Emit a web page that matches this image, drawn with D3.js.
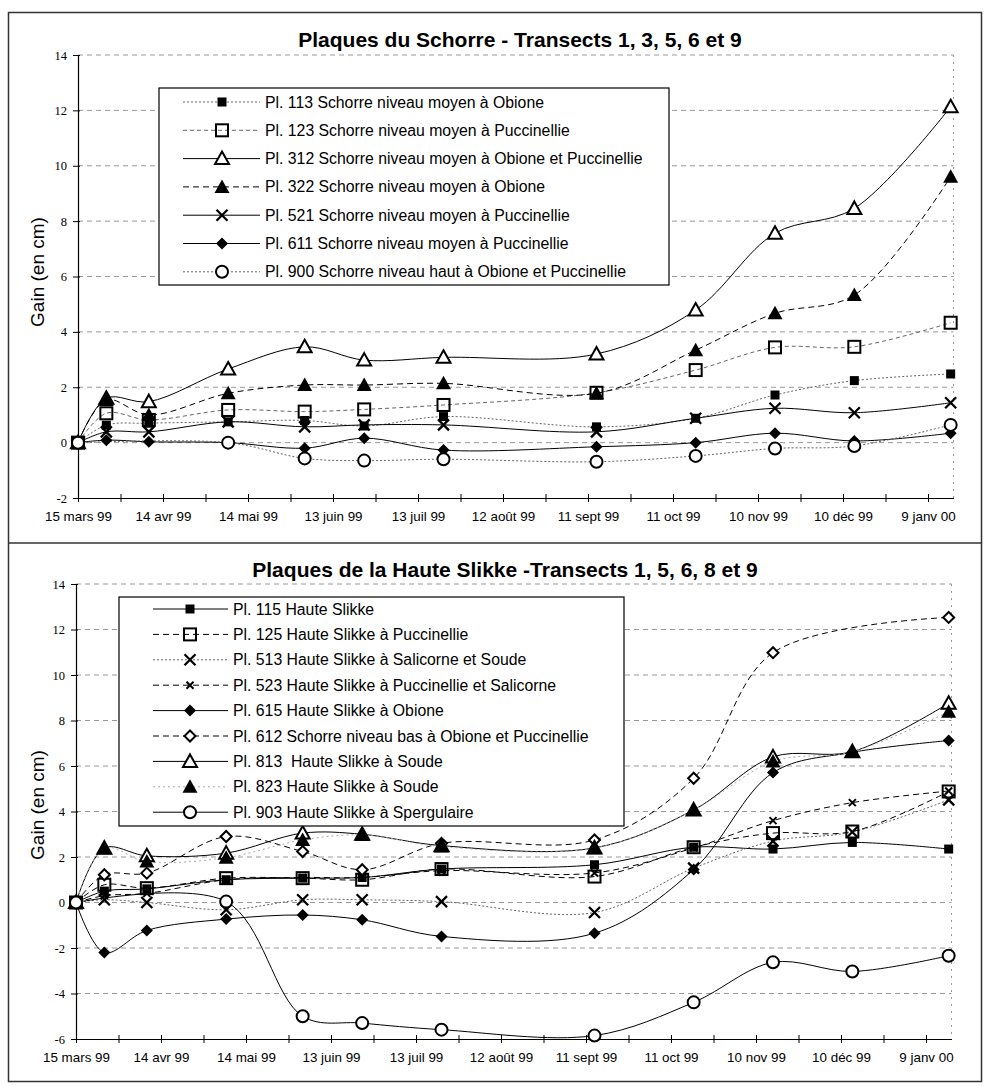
<!DOCTYPE html>
<html><head><meta charset="utf-8">
<script src="https://cdn.jsdelivr.net/npm/d3@7"></script>
<style>body{margin:0;background:#fff} svg{display:block}</style>
</head><body>
<svg id="c" width="985" height="1086"></svg>
<script>
// ---------- DATA ----------
const dates = ["1999-03-15","1999-03-25","1999-04-09","1999-05-07","1999-06-03","1999-06-24","1999-07-22","1999-09-14","1999-10-19","1999-11-16","1999-12-14","2000-01-17"];
const xTickDates = ["1999-03-15","1999-04-14","1999-05-14","1999-06-13","1999-07-13","1999-08-12","1999-09-11","1999-10-11","1999-11-10","1999-12-10","2000-01-09"];
const xTickLabels = ["15 mars 99","14 avr 99","14 mai 99","13 juin 99","13 juil 99","12 août 99","11 sept 99","11 oct 99","10 nov 99","10 déc 99","9 janv 00"];
const yTicksTop = [-2,0,2,4,6,8,10,12,14];
const yTicksBottom = [-6,-4,-2,0,2,4,6,8,10,12,14];

const titleTop = "Plaques du Schorre - Transects 1, 3, 5, 6 et 9";
const titleBottom = "Plaques de la Haute Slikke -Transects 1, 5, 6, 8 et 9";
const yTitle = "Gain (en cm)";

// Top chart series
const topNames = [
  "Pl. 113 Schorre niveau moyen à Obione",
  "Pl. 123 Schorre niveau moyen à Puccinellie",
  "Pl. 312 Schorre niveau moyen à Obione et Puccinellie",
  "Pl. 322 Schorre niveau moyen à Obione",
  "Pl. 521 Schorre niveau moyen à Puccinellie",
  "Pl. 611 Schorre niveau moyen à Puccinellie",
  "Pl. 900 Schorre niveau haut à Obione et Puccinellie"
];
const pl113 = [0, 0.63, 0.70, 0.75, 0.80, 0.60, 0.94, 0.57, 0.88, 1.72, 2.24, 2.48];
const pl123 = [0, 1.06, 0.82, 1.18, 1.12, 1.20, 1.36, 1.80, 2.62, 3.44, 3.46, 4.33];
const pl312 = [0, 1.60, 1.48, 2.66, 3.46, 2.98, 3.08, 3.20, 4.79, 7.56, 8.46, 12.13];
const pl322 = [0, 1.54, 1.00, 1.78, 2.08, 2.08, 2.14, 1.78, 3.34, 4.67, 5.33, 9.60];
const pl521 = [0, 0.39, 0.39, 0.75, 0.57, 0.64, 0.64, 0.39, 0.88, 1.24, 1.08, 1.44];
const pl611 = [0, 0.09, 0.03, 0.00, -0.20, 0.16, -0.27, -0.15, 0.00, 0.34, 0.06, 0.34];
const pl900 = [0, null, null, 0.00, -0.57, -0.65, -0.60, -0.69, -0.48, -0.21, -0.12, 0.64];

// Bottom chart series
const bottomNames = [
  "Pl. 115 Haute Slikke",
  "Pl. 125 Haute Slikke à Puccinellie",
  "Pl. 513 Haute Slikke à Salicorne et Soude",
  "Pl. 523 Haute Slikke à Puccinellie et Salicorne",
  "Pl. 615 Haute Slikke à Obione",
  "Pl. 612 Schorre niveau bas à Obione et Puccinellie",
  "Pl. 813  Haute Slikke à Soude",
  "Pl. 823 Haute Slikke à Soude",
  "Pl. 903 Haute Slikke à Spergulaire"
];
const pl115 = [0, 0.50, 0.60, 1.00, 1.07, 1.10, 1.47, 1.66, 2.43, 2.35, 2.64, 2.35];
const pl125 = [0, 0.78, 0.63, 1.07, 1.07, 1.00, 1.47, 1.14, 2.43, 3.05, 3.12, 4.88];
const pl513 = [0, 0.12, 0.00, -0.32, 0.12, 0.12, 0.04, -0.44, 1.51, 2.70, 3.10, 4.51];
const pl523 = [0, 0.30, 0.40, 1.00, 1.10, 1.10, 1.40, 1.30, 2.40, 3.60, 4.39, 4.90];
const pl615 = [0, -2.20, -1.23, -0.73, -0.55, -0.76, -1.49, -1.35, 1.45, 5.71, 6.60, 7.12];
const pl612 = [0, 1.22, 1.29, 2.90, 2.24, 1.44, 2.60, 2.75, 5.46, 10.98, null, 12.53];
const pl813 = [0, 2.39, 2.05, 2.17, 3.05, 3.00, 2.50, 2.40, 4.07, 6.40, 6.63, 8.76];
const pl823 = [0, 2.39, 1.80, 1.97, 2.75, 2.97, 2.46, 2.39, 4.07, 6.20, 6.63, 8.39];
const pl903 = [0, null, null, 0.04, -5.00, -5.30, -5.59, -5.85, -4.39, -2.63, -3.03, -2.34];

// ---------- STYLES ----------
const lineStyles = {
  solid:   {stroke:"#000", dash:null, w:1},
  dash:    {stroke:"#000", dash:"6,4", w:1},
  dotGray: {stroke:"#666", dash:"2,2", w:1},
  dashGray:{stroke:"#666", dash:"4,3", w:1},
  lightDot:{stroke:"#aaa", dash:"2,3", w:1}
};

const topSeries = [
  {name:topNames[0], values:pl113, marker:"sqF",  line:"dotGray"},
  {name:topNames[1], values:pl123, marker:"sqO",  line:"dashGray"},
  {name:topNames[2], values:pl312, marker:"triO", line:"solid"},
  {name:topNames[3], values:pl322, marker:"triF", line:"dash"},
  {name:topNames[4], values:pl521, marker:"x",    line:"solid"},
  {name:topNames[5], values:pl611, marker:"diaF", line:"solid"},
  {name:topNames[6], values:pl900, marker:"cirO", line:"dotGray"}
];
const bottomSeries = [
  {name:bottomNames[0], values:pl115, marker:"sqF",  line:"solid"},
  {name:bottomNames[1], values:pl125, marker:"sqO",  line:"dash"},
  {name:bottomNames[2], values:pl513, marker:"x",    line:"dotGray"},
  {name:bottomNames[3], values:pl523, marker:"xs",   line:"dash"},
  {name:bottomNames[4], values:pl615, marker:"diaF", line:"solid"},
  {name:bottomNames[5], values:pl612, marker:"diaO", line:"dash"},
  {name:bottomNames[6], values:pl813, marker:"triO", line:"solid"},
  {name:bottomNames[7], values:pl823, marker:"triF", line:"lightDot"},
  {name:bottomNames[8], values:pl903, marker:"cirO", line:"solid"}
];

const parse = d3.utcParse("%Y-%m-%d");
const svg = d3.select("#c");

// outer frames
svg.append("rect").attr("x",8.5).attr("y",12.5).attr("width",973).attr("height",1069)
  .attr("fill","none").attr("stroke","#333").attr("stroke-width",1.5);
svg.append("line").attr("x1",8).attr("x2",982).attr("y1",543).attr("y2",543)
  .attr("stroke","#333").attr("stroke-width",1.5);

function drawMarker(sel, type) {
  const sw = 2;
  switch (type) {
    case "sqF": sel.append("rect").attr("x",-4.5).attr("y",-4.5).attr("width",9).attr("height",9).attr("fill","#000"); break;
    case "sqO": sel.append("rect").attr("x",-6).attr("y",-6).attr("width",12).attr("height",12).attr("fill","none").attr("stroke","#000").attr("stroke-width",sw); break;
    case "triO": sel.append("path").attr("d","M0,-7L7,5.5L-7,5.5Z").attr("fill","#fff").attr("stroke","#000").attr("stroke-width",sw).attr("stroke-linejoin","miter"); break;
    case "triF": sel.append("path").attr("d","M0,-7.5L7.5,6L-7.5,6Z").attr("fill","#000"); break;
    case "x": sel.append("path").attr("d","M-5.5,-5.5L5.5,5.5M-5.5,5.5L5.5,-5.5").attr("stroke","#000").attr("stroke-width",2.3).attr("fill","none"); break;
    case "xs": sel.append("path").attr("d","M-3.5,-3.5L3.5,3.5M-3.5,3.5L3.5,-3.5").attr("stroke","#000").attr("stroke-width",2).attr("fill","none"); break;
    case "diaF": sel.append("path").attr("d","M0,-6L6,0L0,6L-6,0Z").attr("fill","#000"); break;
    case "diaO": sel.append("path").attr("d","M0,-5.5L5.5,0L0,5.5L-5.5,0Z").attr("fill","#fff").attr("stroke","#000").attr("stroke-width",sw); break;
    case "cirO": sel.append("circle").attr("r",6).attr("fill","#fff").attr("stroke","#000").attr("stroke-width",sw); break;
  }
}

function drawChart(cfg) {
  const g = svg.append("g");
  const x = d3.scaleUtc().domain([parse(cfg.xStart), parse(cfg.xEnd)]).range([cfg.left, cfg.right]);
  const y = d3.scaleLinear().domain(cfg.yDomain).range([cfg.bottom, cfg.top]);

  // gridlines
  g.append("g").selectAll("line").data(cfg.yTicks.filter(d => d !== cfg.yDomain[0])).join("line")
    .attr("x1", cfg.left).attr("x2", cfg.right)
    .attr("y1", d => y(d)).attr("y2", d => y(d))
    .attr("stroke", "#999").attr("stroke-width", 1).attr("stroke-dasharray", "5,4");
  // right plot edge (dotted)
  g.append("line").attr("x1", cfg.right).attr("x2", cfg.right).attr("y1", cfg.top).attr("y2", cfg.bottom)
    .attr("stroke", "#999").attr("stroke-dasharray", "2,5");

  // title
  g.append("text").attr("x", cfg.titleX).attr("y", cfg.titleY).attr("text-anchor","middle")
    .attr("font-family","Liberation Sans, Arial, sans-serif").attr("font-weight","bold").attr("font-size",21)
    .text(cfg.title);

  // y axis
  const ya = d3.axisLeft(y).tickValues(cfg.yTicks).tickSizeOuter(0).tickSizeInner(5).tickPadding(6).tickFormat(d => String(d));
  g.append("g").attr("transform", `translate(${cfg.left},0)`).call(ya)
    .call(a => {
      a.select(".domain").attr("stroke","#000").attr("stroke-width",1.2);
      a.selectAll(".tick line").attr("x1",-5).attr("x2",2).attr("stroke","#000");
      a.selectAll(".tick text").attr("font-family","Liberation Serif, Times New Roman, serif").attr("font-size",12.5).attr("fill","#000");
    });
  g.append("text").attr("transform", `translate(${cfg.yTitleX},${cfg.yTitleY}) rotate(-90)`)
    .attr("text-anchor","middle").attr("font-family","Liberation Sans, Arial, sans-serif").attr("font-size",19)
    .text(yTitle);

  // x axis (major labelled ticks + minor ticks)
  const majors = xTickDates.map(parse);
  const minors = majors.map(d => d3.utcDay.offset(d, 15)).filter(d => x(d) < cfg.right);
  const xa = d3.axisBottom(x).tickValues(majors).tickSizeOuter(0).tickSizeInner(4).tickPadding(9)
    .tickFormat((d, i) => xTickLabels[i]);
  g.append("g").attr("transform", `translate(0,${cfg.bottom})`).call(xa)
    .call(a => {
      a.select(".domain").attr("stroke","#000").attr("stroke-width",1.2);
      a.selectAll(".tick line").attr("y1",-4).attr("y2",4).attr("stroke","#000");
      a.selectAll(".tick text").attr("font-family","Liberation Sans, Arial, sans-serif").attr("font-size",13.4).attr("fill","#000");
    });
  const xm = d3.axisBottom(x).tickValues(minors).tickSizeOuter(0).tickFormat("");
  g.append("g").attr("transform", `translate(0,${cfg.bottom})`).call(xm)
    .call(a => { a.select(".domain").remove(); a.selectAll(".tick line").attr("y1",-4).attr("y2",4).attr("stroke","#000"); });

  // series lines
  const lineGen = d3.line().x(d => x(d.date)).y(d => y(d.v)).curve(d3.curveCatmullRom.alpha(0.5));
  const pts = s => dates.map((d, i) => ({date: parse(d), v: s.values[i]})).filter(p => p.v !== null);
  cfg.series.forEach(s => {
    const st = lineStyles[s.line];
    g.append("path").datum(pts(s)).attr("d", lineGen).attr("fill","none")
      .attr("stroke", st.stroke).attr("stroke-width", st.w).attr("stroke-dasharray", st.dash);
  });
  cfg.series.forEach(s => {
    g.append("g").selectAll("g").data(pts(s)).join("g")
      .attr("transform", d => `translate(${x(d.date)},${y(d.v)})`)
      .each(function() { drawMarker(d3.select(this), s.marker); });
  });

  // legend
  const L = cfg.legend;
  const lg = g.append("g");
  lg.append("rect").attr("x", L.x).attr("y", L.y).attr("width", L.w).attr("height", L.h)
    .attr("fill","#fff").attr("stroke","#000").attr("stroke-width",1.2);
  cfg.series.forEach((s, i) => {
    const cy = L.row0 + i * L.step;
    const st = lineStyles[s.line];
    lg.append("line").attr("x1", L.lx1).attr("x2", L.lx2).attr("y1", cy).attr("y2", cy)
      .attr("stroke", st.stroke).attr("stroke-width", st.w).attr("stroke-dasharray", st.dash);
    drawMarker(lg.append("g").attr("transform", `translate(${L.mx},${cy})`), s.marker);
    lg.append("text").attr("x", L.tx).attr("y", cy + 5.5)
      .attr("font-family","Liberation Sans, Arial, sans-serif").attr("font-size",15.8)
      .attr("xml:space","preserve").style("white-space","pre")
      .text(s.name);
  });
}

drawChart({
  xStart:"1999-03-15", xEnd:"2000-01-18", left:78, right:78 + 309*85/30,
  yDomain:[-2,14], top:55, bottom:498, yTicks:yTicksTop,
  title:titleTop, titleX:520, titleY:47, yTitleX:44, yTitleY:272,
  series:topSeries,
  legend:{x:159, y:88, w:510, h:197, row0:102, step:28.3, lx1:183, lx2:260, mx:222, tx:265}
});
drawChart({
  xStart:"1999-03-15", xEnd:"2000-01-18", left:76, right:76 + 309*85/30,
  yDomain:[-6,14], top:584, bottom:1039, yTicks:yTicksBottom,
  title:titleBottom, titleX:505, titleY:577, yTitleX:44, yTitleY:805,
  series:bottomSeries,
  legend:{x:119, y:597, w:505, h:229, row0:609, step:25.4, lx1:153, lx2:228, mx:190, tx:233}
});
</script>
</body></html>
